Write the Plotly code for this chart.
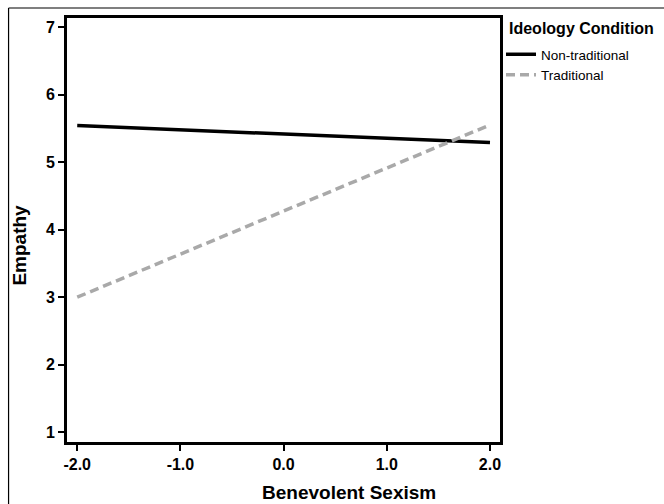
import plotly.graph_objects as go

# Simple-slopes data: predicted empathy at +/-2 SD of benevolent sexism
sexism = [-2.0, 2.0]
empathy_nontraditional = [5.54, 5.29]
empathy_traditional = [3.00, 5.55]

x_ticks = [-2.0, -1.0, 0.0, 1.0, 2.0]
x_tick_labels = ["-2.0", "-1.0", "0.0", "1.0", "2.0"]
y_ticks = [1, 2, 3, 4, 5, 6, 7]

W, H = 664, 504
L, R, T, B = 66.5, 164, 18, 62
pw, ph = W - L - R, H - T - B

FONT = "Liberation Sans, Arial, sans-serif"

fig = go.Figure()
fig.add_trace(go.Scatter(
    x=sexism, y=empathy_nontraditional, mode="lines", name="Non-traditional",
    line=dict(color="black", width=3.5),
))
fig.add_trace(go.Scatter(
    x=sexism, y=empathy_traditional, mode="lines", name="Traditional",
    line=dict(color="#a9a9a9", width=3.5, dash="9px,5px"),
))

axis_common = dict(
    showgrid=False, zeroline=False, showline=True, linecolor="black",
    linewidth=3, mirror=True, ticks="outside", ticklen=6, tickwidth=2,
    tickcolor="black",
    tickfont=dict(family=FONT, size=16, color="black", weight="bold"),
)
fig.update_xaxes(range=[-2.099, 2.097], tickvals=x_ticks,
                 ticktext=x_tick_labels, **axis_common)
fig.update_yaxes(range=[0.857, 7.133], tickvals=y_ticks, **axis_common)

def px_x(p):
    return (p - L) / pw

def px_y(p):
    return 1 - (p - T) / ph

annotations = [
    dict(text="<b>Empathy</b>", x=px_x(19), y=px_y(245), xref="paper", yref="paper",
         textangle=-90, showarrow=False, font=dict(family=FONT, size=19, color="black"),
         xanchor="center", yanchor="middle"),
    dict(text="<b>Benevolent Sexism</b>", x=px_x(349), y=px_y(492), xref="paper",
         yref="paper", showarrow=False, font=dict(family=FONT, size=19, color="black"),
         xanchor="center", yanchor="middle"),
    # legend heading
    dict(text="<b>Ideology Condition</b>", x=px_x(507), y=px_y(29), xref="paper",
         yref="paper", showarrow=False, font=dict(family=FONT, size=16, color="black"),
         xanchor="left", yanchor="middle"),
]

shapes = [
    # outer chart frame (top and left edges)
    dict(type="line", xref="paper", yref="paper", x0=px_x(8), y0=px_y(8),
         x1=px_x(W + 5), y1=px_y(8), line=dict(color="black", width=1.2)),
    dict(type="line", xref="paper", yref="paper", x0=px_x(8), y0=px_y(8),
         x1=px_x(8), y1=px_y(H + 5), line=dict(color="black", width=1.2)),
]

fig.update_layout(
    width=W, height=H,
    margin=dict(l=L, r=R, t=T, b=B),
    paper_bgcolor="white", plot_bgcolor="white",
    font=dict(family=FONT, color="black"),
    showlegend=True,
    legend=dict(
        x=px_x(501), y=px_y(39), xanchor="left", yanchor="top",
        font=dict(family=FONT, size=13.5), bgcolor="rgba(0,0,0,0)",
        tracegroupgap=0, itemwidth=30,
    ),
    annotations=annotations,
    shapes=shapes,
)

fig.write_html("out.html")
